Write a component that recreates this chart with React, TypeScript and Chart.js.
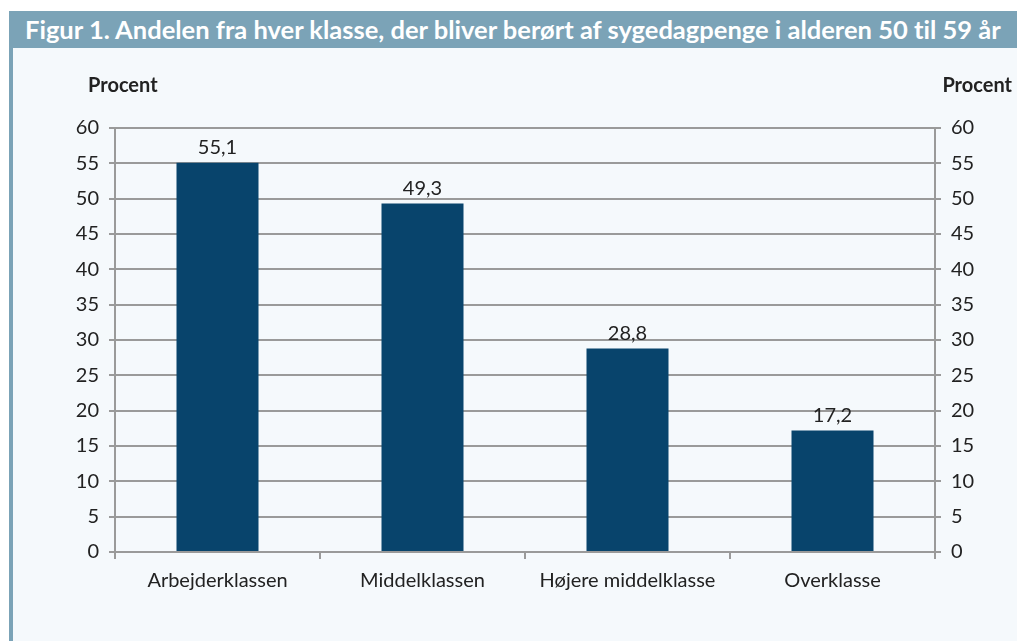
import React, { useEffect, useRef } from "react";
import { Chart, registerables } from "chart.js";

Chart.register(...registerables);

const TITLE = "Figur 1. Andelen fra hver klasse, der bliver berørt af sygedagpenge i alderen 50 til 59 år";
const categories = ["Arbejderklassen", "Middelklassen", "Højere middelklasse", "Overklasse"];
const values = [55.1, 49.3, 28.8, 17.2];
const axisTitle = "Procent";
const yMin = 0;
const yMax = 60;
const yStep = 5;

const FONT = "Lato, 'Open Sans', sans-serif";

const labelPlugin = {
  id: "extraLabels",
  afterDatasetsDraw(chart: any) {
    const ctx = chart.ctx;
    const meta = chart.getDatasetMeta(0);
    ctx.save();
    ctx.fillStyle = "#222222";
    ctx.font = `20px ${FONT}`;
    ctx.textAlign = "center";
    ctx.textBaseline = "bottom";
    meta.data.forEach((bar: any, i: number) => {
      ctx.fillText(values[i].toFixed(1).replace(".", ","), bar.x, bar.y - 5);
    });
    const area = chart.chartArea;
    ctx.font = `bold 20px ${FONT}`;
    ctx.textBaseline = "middle";
    ctx.textAlign = "left";
    ctx.fillText(axisTitle, area.left - 27, area.top - 42);
    ctx.textAlign = "right";
    ctx.fillText(axisTitle, chart.width - 5, area.top - 42);
    ctx.restore();
  },
};

export default function App() {
  const ref = useRef<HTMLCanvasElement>(null);
  useEffect(() => {
    if (!ref.current) return;
    const gridColor = "#9a9a9a";
    const tickFont = { family: FONT, size: 20 };
    const chart = new Chart(ref.current, {
      type: "bar",
      data: {
        labels: categories,
        datasets: [
          {
            data: values,
            backgroundColor: "#08446c",
            barPercentage: 0.8,
            categoryPercentage: 0.5,
            yAxisID: "y",
          },
        ],
      },
      options: {
        animation: false,
        responsive: false,
        devicePixelRatio: 1,
        layout: { padding: { top: 80, left: 0, right: 0, bottom: 0 } },
        plugins: {
          legend: { display: false },
          tooltip: { enabled: false },
          title: { display: false },
        },
        scales: {
          x: {
            offset: true,
            grid: {
              offset: true,
              drawOnChartArea: false,
              drawTicks: true,
              tickLength: 7,
              color: gridColor,
              lineWidth: 2,
            },
            border: { display: true, color: gridColor, width: 2 },
            ticks: { color: "#222222", font: tickFont, padding: 10, maxRotation: 0 },
            afterFit(scale: any) {
              scale.height = 89;
            },
          },
          y: {
            position: "left",
            min: yMin,
            max: yMax,
            grid: { color: gridColor, lineWidth: 2, tickLength: 6, drawTicks: true },
            border: { display: true, color: gridColor, width: 2 },
            ticks: { stepSize: yStep, color: "#222222", font: tickFont, padding: 10 },
            afterFit(scale: any) {
              scale.width = 102;
            },
          },
          y2: {
            position: "right",
            min: yMin,
            max: yMax,
            grid: { drawOnChartArea: false, color: gridColor, lineWidth: 2, tickLength: 6, drawTicks: true },
            border: { display: true, color: gridColor, width: 2 },
            ticks: { stepSize: yStep, color: "#222222", font: tickFont, padding: 10 },
            afterFit(scale: any) {
              scale.width = 82;
            },
          },
        },
      },
      plugins: [labelPlugin],
    });
    return () => chart.destroy();
  }, []);

  return (
    <div style={{ position: "fixed", left: 0, top: 0, width: 1017, height: 641, background: "#ffffff", overflow: "hidden" }}>
      <div
        style={{
          position: "absolute",
          left: 9,
          top: 11,
          right: 0,
          height: 37,
          background: "#7ba3b7",
          color: "#ffffff",
          fontFamily: FONT,
          fontWeight: 700,
          fontSize: 25.5,
          lineHeight: "37px",
          paddingLeft: 16,
          whiteSpace: "nowrap",
          fontVariantLigatures: "none",
        }}
      >
        {TITLE}
      </div>
      <div style={{ position: "absolute", left: 9, top: 48, width: 4, bottom: 0, background: "#7ba3b7" }} />
      <div style={{ position: "absolute", left: 13, top: 48, right: 0, bottom: 0, background: "#f5f9fc" }}>
        <canvas ref={ref} width={1004} height={593} style={{ display: "block" }} />
      </div>
    </div>
  );
}
